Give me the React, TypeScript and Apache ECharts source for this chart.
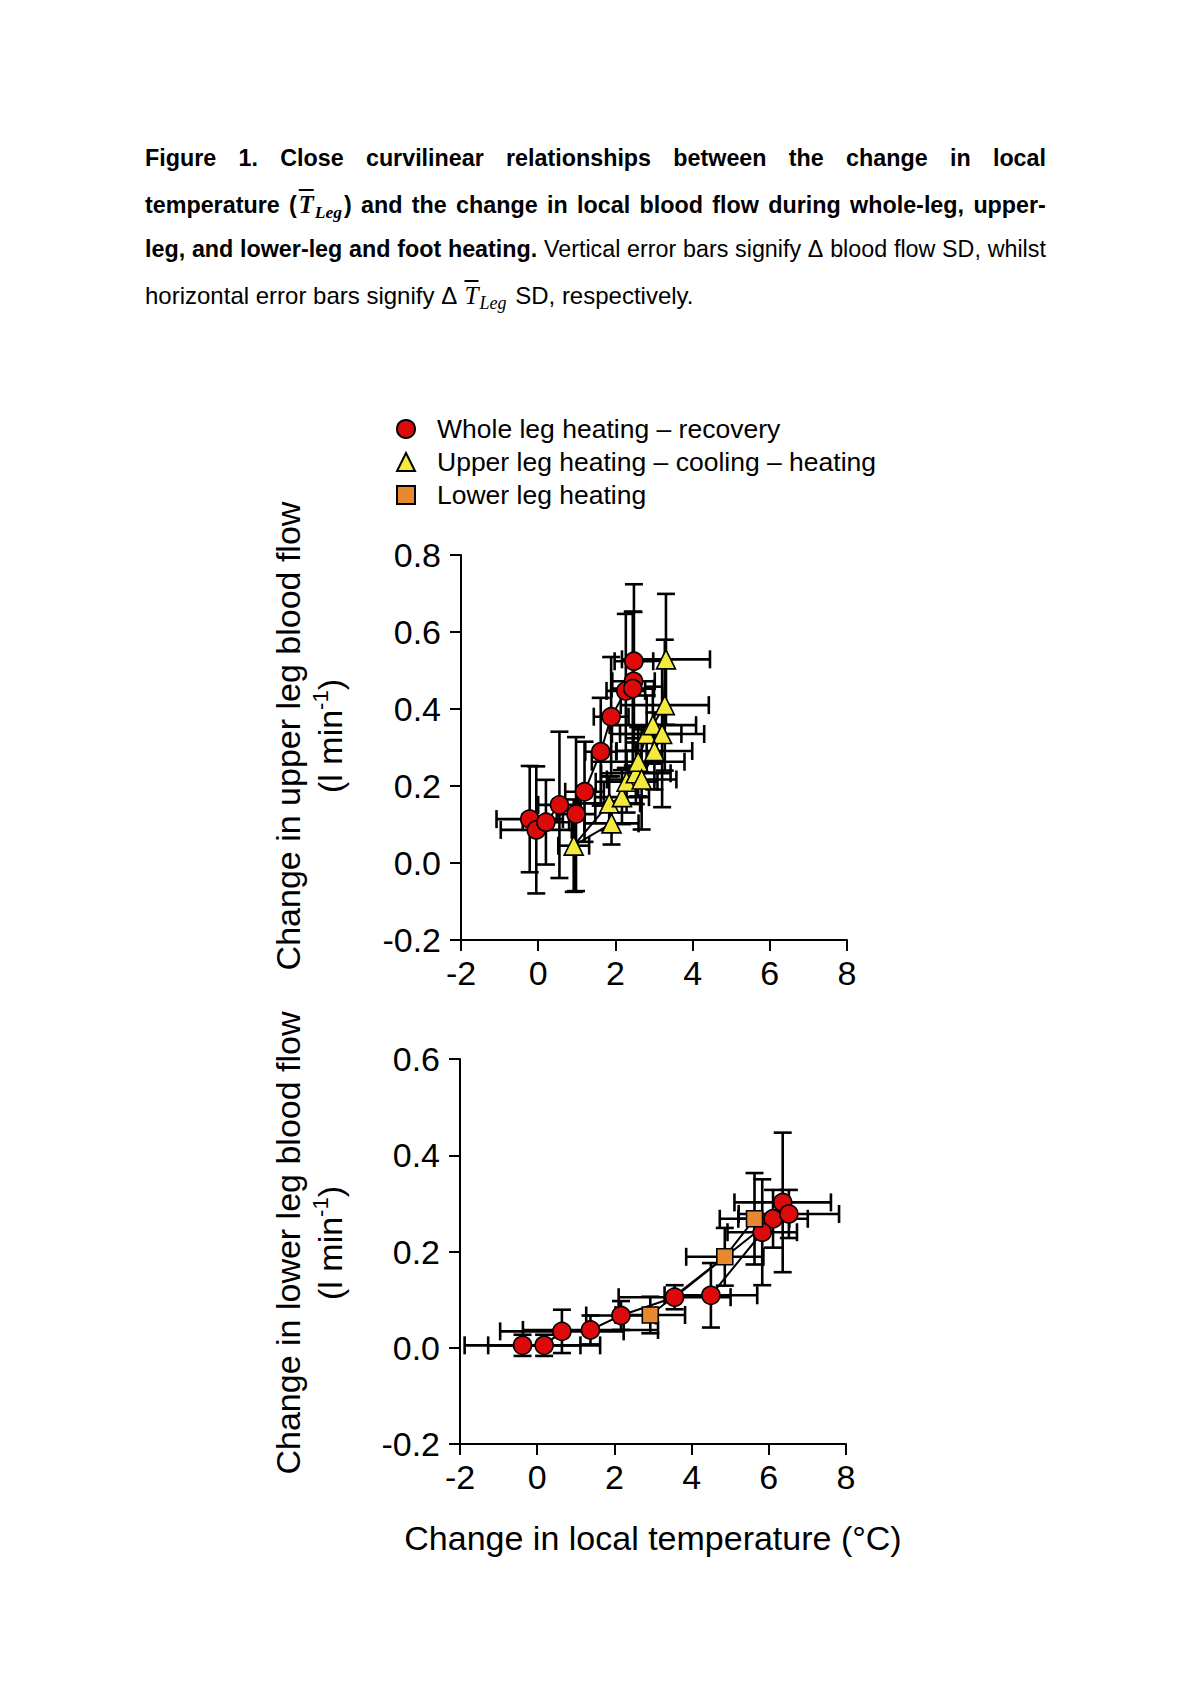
import React, { useEffect, useRef } from "react";
import * as echarts from "echarts";

const FONT = "'Liberation Sans', Arial, Helvetica, sans-serif";

// Axis ticks
const xTicks = [-2, 0, 2, 4, 6, 8];
const yTicksUpper = [-0.2, 0, 0.2, 0.4, 0.6, 0.8];
const yTicksLower = [-0.2, 0, 0.2, 0.4, 0.6];

// Series names
const nameWhole = "Whole leg heating \u2013 recovery";
const nameUpper = "Upper leg heating \u2013 cooling \u2013 heating";
const nameLower = "Lower leg heating";

// ---- Upper panel: change in upper leg blood flow ----
// Whole leg heating – recovery (circles)
const upWholeT = [-0.22, -0.05, 0.2, 0.55, 0.98, 1.2, 1.62, 1.89, 2.27, 2.47, 2.48, 2.45];
const upWholeBF = [0.114, 0.086, 0.106, 0.151, 0.127, 0.185, 0.289, 0.38, 0.447, 0.472, 0.524, 0.453];
const upWholeTsd = [0.86, 0.92, 0.6, 0.55, 0.5, 0.5, 0.4, 0.45, 0.5, 0.55, 0.5, 0.55];
const upWholeBFsd = [0.138, 0.165, 0.11, 0.19, 0.2, 0.13, 0.14, 0.155, 0.2, 0.18, 0.2, 0.2];

// Upper leg heating – cooling – heating (triangles)
const upUpperT = [1.9, 0.92, 1.84, 2.17, 2.29, 2.53, 2.59, 2.81, 2.97, 3.28, 3.31, 3.21, 3.01, 2.68];
const upUpperBF = [0.103, 0.045, 0.155, 0.171, 0.211, 0.233, 0.263, 0.335, 0.358, 0.41, 0.529, 0.335, 0.291, 0.217];
const upUpperTsd = [0.7, 0.4, 0.8, 0.7, 0.8, 0.9, 1.2, 0.9, 1.12, 1.14, 1.14, 1.09, 0.98, 0.9];
const upUpperBFsd = [0.055, 0.12, 0.07, 0.07, 0.08, 0.08, 0.09, 0.1, 0.1, 0.17, 0.17, 0.19, 0.1, 0.13];

// ---- Lower panel: change in lower leg blood flow ----
// Whole leg heating – recovery (circles)
const loWholeT = [-0.38, 0.18, 0.64, 1.38, 2.17, 3.56, 6.11, 6.36, 6.52, 5.83, 4.5];
const loWholeBF = [0.005, 0.005, 0.034, 0.037, 0.067, 0.105, 0.268, 0.302, 0.278, 0.24, 0.109];
const loWholeTsd = [1.5, 1.45, 1.6, 1.75, 0.9, 1.45, 0.9, 1.25, 1.3, 0.9, 1.2];
const loWholeBFsd = [0.022, 0.022, 0.045, 0.03, 0.03, 0.025, 0.06, 0.145, 0.05, 0.11, 0.067];

// Lower leg heating (squares)
const loLowerT = [2.93, 4.86, 5.63];
const loLowerBF = [0.068, 0.189, 0.268];
const loLowerTsd = [0.9, 1.0, 0.9];
const loLowerBFsd = [0.038, 0.06, 0.095];

const RED = "#dc0a0a";
const YELLOW = "#f4ea3c";
const ORANGE = "#e8892f";

const CAP = 9;

function errRender(params: any, api: any) {
  const x = api.value(0);
  const y = api.value(1);
  const xs = api.value(2);
  const ys = api.value(3);
  const l = api.coord([x - xs, y]);
  const r = api.coord([x + xs, y]);
  const b = api.coord([x, y - ys]);
  const t = api.coord([x, y + ys]);
  const style = { stroke: "#000", lineWidth: 2.6, fill: "none" };
  const ln = (x1: number, y1: number, x2: number, y2: number) => ({
    type: "line",
    shape: { x1, y1, x2, y2 },
    style,
  });
  return {
    type: "group",
    children: [
      ln(l[0], l[1], r[0], r[1]),
      ln(l[0], l[1] - CAP, l[0], l[1] + CAP),
      ln(r[0], r[1] - CAP, r[0], r[1] + CAP),
      ln(b[0], b[1], t[0], t[1]),
      ln(b[0] - CAP, b[1], b[0] + CAP, b[1]),
      ln(t[0] - CAP, t[1], t[0] + CAP, t[1]),
    ],
  };
}

function errSeries(idx: number, T: number[], BF: number[], Tsd: number[], BFsd: number[]) {
  return {
    type: "custom",
    name: "err" + idx + "_" + T.length,
    xAxisIndex: idx,
    yAxisIndex: idx,
    renderItem: errRender,
    data: T.map((t, i) => [t, BF[i], Tsd[i], BFsd[i]]),
    encode: { x: 0, y: 1 },
    z: 1,
    silent: true,
    clip: false,
  };
}

function lineSeries(idx: number, T: number[], BF: number[], key: string) {
  return {
    type: "line",
    name: "line_" + key,
    xAxisIndex: idx,
    yAxisIndex: idx,
    data: T.map((t, i) => [t, BF[i]]),
    symbol: "none",
    showSymbol: false,
    lineStyle: { color: "#000", width: 2 },
    z: 2,
    silent: true,
  };
}

function scatterSeries(
  idx: number,
  name: string,
  T: number[],
  BF: number[],
  symbol: string,
  size: number,
  color: string
) {
  return {
    type: "scatter",
    name,
    xAxisIndex: idx,
    yAxisIndex: idx,
    data: T.map((t, i) => [t, BF[i]]),
    symbol,
    symbolSize: size,
    itemStyle: { color, borderColor: "#000", borderWidth: 1.6, opacity: 1 },
    z: 3,
    silent: true,
  };
}

function xAxis(gridIndex: number) {
  return {
    type: "value",
    gridIndex,
    min: xTicks[0],
    max: xTicks[xTicks.length - 1],
    interval: xTicks[1] - xTicks[0],
    axisLine: { show: true, onZero: false, lineStyle: { color: "#000", width: 2 } },
    axisTick: { show: true, length: 11, lineStyle: { color: "#000", width: 2 } },
    axisLabel: {
      fontSize: 34,
      color: "#000",
      fontFamily: FONT,
      margin: 16,
      formatter: (v: number) => String(Math.round(v)),
    },
    splitLine: { show: false },
  };
}

function yAxis(gridIndex: number, ticks: number[]) {
  return {
    type: "value",
    gridIndex,
    min: ticks[0],
    max: ticks[ticks.length - 1],
    interval: 0.2,
    axisLine: { show: true, onZero: false, lineStyle: { color: "#000", width: 2 } },
    axisTick: { show: true, length: 11, lineStyle: { color: "#000", width: 2 } },
    axisLabel: {
      fontSize: 34,
      color: "#000",
      fontFamily: FONT,
      margin: 20,
      formatter: (v: number) => (Math.abs(v) < 1e-9 ? "0.0" : v.toFixed(1)),
    },
    splitLine: { show: false },
  };
}

const yRich = {
  a: { fontSize: 34, fontFamily: FONT, lineHeight: 42, fill: "#000", color: "#000" },
  s: { fontSize: 22, fontFamily: FONT, lineHeight: 22, verticalAlign: "top", fill: "#000", color: "#000" },
};

const option: any = {
  animation: false,
  backgroundColor: "transparent",
  grid: [
    { left: 461, top: 555, width: 386, height: 385, containLabel: false },
    { left: 460, top: 1059, width: 386, height: 385, containLabel: false },
  ],
  xAxis: [xAxis(0), xAxis(1)],
  yAxis: [yAxis(0, yTicksUpper), yAxis(1, yTicksLower)],
  legend: {
    show: true,
    orient: "vertical",
    left: 396,
    top: 413,
    padding: 0,
    itemWidth: 18,
    itemHeight: 18,
    itemGap: 1,
    selectedMode: false,
    data: [nameWhole, nameUpper, nameLower],
    textStyle: {
      fontSize: 26.5,
      fontFamily: FONT,
      color: "#000",
      lineHeight: 32,
      padding: [0, 0, 0, 17],
    },
  },
  graphic: [
    {
      type: "text",
      x: 309,
      y: 736,
      rotation: Math.PI / 2,
      style: {
        text: "{a|Change in upper leg blood flow}\n{a|(l min}{s|-1}{a|)}",
        rich: yRich,
        align: "center",
        verticalAlign: "middle",
        textAlign: "center",
        textVerticalAlign: "middle",
      },
    },
    {
      type: "text",
      x: 309,
      y: 1243,
      rotation: Math.PI / 2,
      style: {
        text: "{a|Change in lower leg blood flow}\n{a|(l min}{s|-1}{a|)}",
        rich: yRich,
        align: "center",
        verticalAlign: "middle",
        textAlign: "center",
        textVerticalAlign: "middle",
      },
    },
    {
      type: "text",
      x: 653,
      y: 1538,
      style: {
        text: "Change in local temperature (\u00B0C)",
        fontSize: 34,
        fontFamily: FONT,
        fill: "#000",
        align: "center",
        verticalAlign: "middle",
        textAlign: "center",
        textVerticalAlign: "middle",
      },
    },
  ],
  series: [
    errSeries(0, upWholeT, upWholeBF, upWholeTsd, upWholeBFsd),
    errSeries(0, upUpperT, upUpperBF, upUpperTsd, upUpperBFsd),
    errSeries(1, loWholeT, loWholeBF, loWholeTsd, loWholeBFsd),
    errSeries(1, loLowerT, loLowerBF, loLowerTsd, loLowerBFsd),
    lineSeries(0, upWholeT, upWholeBF, "upWhole"),
    lineSeries(0, upUpperT, upUpperBF, "upUpper"),
    lineSeries(1, loWholeT, loWholeBF, "loWhole"),
    lineSeries(1, loLowerT, loLowerBF, "loLower"),
    scatterSeries(0, nameWhole, upWholeT, upWholeBF, "circle", 18, RED),
    scatterSeries(0, nameUpper, upUpperT, upUpperBF, "triangle", 19, YELLOW),
    scatterSeries(1, nameWhole, loWholeT, loWholeBF, "circle", 18, RED),
    scatterSeries(1, nameLower, loLowerT, loLowerBF, "rect", 16, ORANGE),
  ],
};

const serif = "'Liberation Serif', 'DejaVu Serif', serif";

function TLeg() {
  return (
    <span style={{ whiteSpace: "nowrap", marginLeft: 2, marginRight: 2 }}>
      <span style={{ fontFamily: serif, fontStyle: "italic", textDecoration: "overline", fontSize: "1.05em" }}>
        T
      </span>
      <span
        style={{
          fontFamily: serif,
          fontStyle: "italic",
          fontSize: "0.75em",
          position: "relative",
          top: "0.3em",
          marginLeft: 1,
        }}
      >
        Leg
      </span>
    </span>
  );
}

const rowStyle: React.CSSProperties = {
  display: "flex",
  justifyContent: "space-between",
  alignItems: "baseline",
  height: 45.7,
  lineHeight: "45.7px",
  whiteSpace: "nowrap",
};

function Caption() {
  const l1 = ["Figure", "1.", "Close", "curvilinear", "relationships", "between", "the", "change", "in", "local"];
  const l2a = ["and", "the", "change", "in", "local", "blood", "flow", "during", "whole-leg,", "upper-"];
  const l3b = ["leg,", "and", "lower-leg", "and", "foot", "heating."];
  const l3r = ["Vertical", "error", "bars", "signify", "\u0394", "blood", "flow", "SD,", "whilst"];
  return (
    <div
      style={{
        position: "absolute",
        left: 145,
        top: 136,
        width: 901,
        fontFamily: FONT,
        fontSize: 23.3,
        color: "#000",
      }}
    >
      <div style={{ ...rowStyle, fontWeight: "bold" }}>
        {l1.map((w, i) => (
          <span key={i}>{w}</span>
        ))}
      </div>
      <div style={{ ...rowStyle, fontWeight: "bold" }}>
        <span>temperature</span>
        <span>
          (<TLeg />)
        </span>
        {l2a.map((w, i) => (
          <span key={i}>{w}</span>
        ))}
      </div>
      <div style={rowStyle}>
        {l3b.map((w, i) => (
          <span key={"b" + i} style={{ fontWeight: "bold" }}>
            {w}
          </span>
        ))}
        {l3r.map((w, i) => (
          <span key={"r" + i}>{w}</span>
        ))}
      </div>
      <div style={{ height: 45.7, lineHeight: "45.7px", whiteSpace: "nowrap", fontSize: 24 }}>
        horizontal error bars signify {"\u0394"} <TLeg /> SD, respectively.
      </div>
    </div>
  );
}

export default function App() {
  const ref = useRef<HTMLDivElement>(null);
  useEffect(() => {
    if (!ref.current) return;
    const chart = echarts.init(ref.current, null, { renderer: "svg" });
    chart.setOption(option);
    return () => {
      chart.dispose();
    };
  }, []);
  return (
    <div
      style={{
        position: "absolute",
        left: 0,
        top: 0,
        width: 1190,
        height: 1683,
        background: "#fff",
        overflow: "hidden",
      }}
    >
      <div ref={ref} style={{ position: "absolute", left: 0, top: 0, width: 1190, height: 1683 }} />
      <Caption />
    </div>
  );
}
